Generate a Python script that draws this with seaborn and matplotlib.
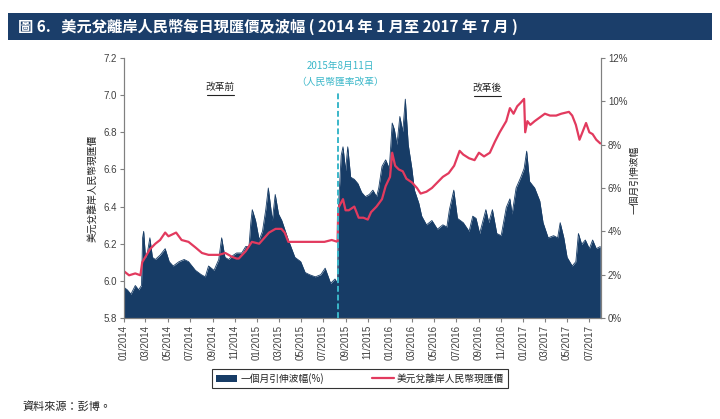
import matplotlib
matplotlib.use("Agg")
import matplotlib.pyplot as plt
import matplotlib.dates as mdates
from matplotlib.patches import Rectangle, Patch
from matplotlib.lines import Line2D
import seaborn as sns
import pandas as pd

# ---------------- data ----------------
vol_dates = [
    "2014-01-02", "2014-01-10", "2014-01-20", "2014-02-01", "2014-02-10", "2014-02-18",
    "2014-02-21", "2014-02-24", "2014-03-01", "2014-03-06", "2014-03-13", "2014-03-20",
    "2014-03-28", "2014-04-10", "2014-04-24", "2014-05-05", "2014-05-16", "2014-06-01",
    "2014-06-15", "2014-06-27", "2014-07-16", "2014-08-01", "2014-08-12", "2014-08-21",
    "2014-09-05", "2014-09-18", "2014-09-26", "2014-10-05", "2014-10-15", "2014-10-28",
    "2014-11-06", "2014-11-20", "2014-12-01", "2014-12-10", "2014-12-15", "2014-12-19",
    "2014-12-28", "2015-01-07", "2015-01-16", "2015-01-25", "2015-02-01", "2015-02-12",
    "2015-02-20", "2015-03-01", "2015-03-10", "2015-03-19", "2015-03-28", "2015-04-15",
    "2015-05-01", "2015-05-13", "2015-05-25", "2015-06-10", "2015-06-25", "2015-07-07",
    "2015-07-22", "2015-08-03", "2015-08-10",
    "2015-08-12", "2015-08-20", "2015-08-25", "2015-09-01", "2015-09-07", "2015-09-15",
    "2015-09-25", "2015-10-05", "2015-10-15", "2015-10-25", "2015-11-05", "2015-11-15",
    "2015-11-25", "2015-12-01", "2015-12-10", "2015-12-20", "2015-12-30", "2016-01-07",
    "2016-01-13", "2016-01-20", "2016-01-28", "2016-02-05", "2016-02-12", "2016-02-20",
    "2016-03-01", "2016-03-08", "2016-03-20", "2016-03-28", "2016-04-10", "2016-04-25",
    "2016-05-10", "2016-05-25", "2016-06-05", "2016-06-12", "2016-06-24", "2016-07-04",
    "2016-07-20", "2016-08-05", "2016-08-15", "2016-08-24", "2016-09-03", "2016-09-20",
    "2016-09-28", "2016-10-08", "2016-10-20", "2016-11-01", "2016-11-15", "2016-11-25",
    "2016-12-01", "2016-12-12", "2016-12-25", "2017-01-03", "2017-01-10", "2017-01-18",
    "2017-02-01", "2017-02-15", "2017-02-24", "2017-03-10", "2017-03-25", "2017-04-05",
    "2017-04-12", "2017-04-22", "2017-05-01", "2017-05-15", "2017-05-25", "2017-06-01",
    "2017-06-10", "2017-06-20", "2017-07-01", "2017-07-10", "2017-07-20", "2017-07-31",
]
vol_values = [
    1.4, 1.3, 1.1, 1.5, 1.3, 1.5,
    3.7, 4.0, 2.8, 3.0, 3.7, 2.8,
    2.7, 2.9, 3.2, 2.6, 2.4, 2.6,
    2.7, 2.6, 2.2, 2.0, 1.9, 2.4,
    2.2, 2.7, 3.7, 2.8, 2.7, 2.9,
    3.0, 3.0, 3.3, 3.3, 4.4, 5.0,
    4.5, 3.6, 4.0, 5.0, 6.0, 4.5,
    5.7, 4.8, 4.5, 4.05, 3.6, 2.8,
    2.6, 2.1, 2.0, 1.9, 2.0, 2.3,
    1.6, 1.8, 1.6,
    5.0, 7.5, 7.9, 6.8, 7.9, 6.5,
    6.4, 6.2, 5.8, 5.6, 5.7, 5.9,
    5.6, 6.0, 7.0, 7.3, 6.9, 9.0,
    8.7, 8.0, 9.3, 8.6, 10.1, 8.0,
    6.9, 5.9, 5.3, 4.7, 4.3, 4.5,
    4.1, 4.3, 4.2, 5.0, 5.9, 4.6,
    4.4, 4.0, 4.7, 4.6, 3.9, 5.0,
    4.4, 5.0, 3.9, 3.8, 5.1, 5.5,
    4.8, 6.0, 6.5, 6.9, 7.7, 6.3,
    6.0, 5.4, 4.4, 3.7, 3.8, 3.7,
    4.4, 3.7, 2.8, 2.4, 2.6, 3.9,
    3.4, 3.6, 3.2, 3.6, 3.2, 3.3,
]

fx_dates = [
    "2014-01-02", "2014-01-15", "2014-02-01", "2014-02-15", "2014-02-20", "2014-03-01",
    "2014-03-13", "2014-03-28", "2014-04-10", "2014-04-24", "2014-05-03", "2014-05-24",
    "2014-06-08", "2014-06-27", "2014-07-16", "2014-08-03", "2014-08-21", "2014-09-05",
    "2014-09-18", "2014-10-06", "2014-10-24", "2014-11-06", "2014-11-12", "2014-12-01",
    "2014-12-18", "2015-01-07", "2015-01-16", "2015-02-03", "2015-02-21", "2015-03-09",
    "2015-03-18", "2015-03-28", "2015-04-20", "2015-05-15", "2015-06-10", "2015-07-05",
    "2015-07-25", "2015-08-10",
    "2015-08-12", "2015-08-14", "2015-08-25", "2015-09-01", "2015-09-10", "2015-09-25",
    "2015-10-07", "2015-10-20", "2015-11-01", "2015-11-10", "2015-11-25", "2015-12-10",
    "2015-12-20", "2016-01-01", "2016-01-07", "2016-01-15", "2016-01-25", "2016-02-05",
    "2016-02-15", "2016-03-01", "2016-03-15", "2016-03-25", "2016-04-10", "2016-04-25",
    "2016-05-10", "2016-05-25", "2016-06-10", "2016-06-25", "2016-07-10", "2016-07-20",
    "2016-08-05", "2016-08-20", "2016-09-01", "2016-09-15", "2016-10-01", "2016-10-15",
    "2016-10-28", "2016-11-15", "2016-11-25", "2016-12-05", "2016-12-15", "2016-12-25",
    "2017-01-03", "2017-01-06", "2017-01-12", "2017-01-20", "2017-02-01", "2017-02-15",
    "2017-03-01", "2017-03-15", "2017-04-01", "2017-04-15", "2017-05-06", "2017-05-15",
    "2017-05-25", "2017-06-04", "2017-06-12", "2017-06-22", "2017-07-01", "2017-07-10",
    "2017-07-20", "2017-07-31",
]
fx_values = [
    6.05, 6.03, 6.04, 6.03, 6.10, 6.13,
    6.17, 6.20, 6.22, 6.26, 6.24, 6.26,
    6.22, 6.21, 6.18, 6.15, 6.14, 6.14,
    6.14, 6.15, 6.13, 6.12, 6.12, 6.16,
    6.21, 6.20, 6.22, 6.26, 6.28, 6.28,
    6.26, 6.21, 6.21, 6.21, 6.21, 6.21,
    6.22, 6.21,
    6.39, 6.40, 6.44, 6.38, 6.38, 6.40,
    6.34, 6.34, 6.33, 6.37, 6.40, 6.44,
    6.51, 6.56, 6.69, 6.62, 6.60, 6.59,
    6.55, 6.53, 6.50, 6.47, 6.48, 6.50,
    6.53, 6.56, 6.58, 6.62, 6.70, 6.68,
    6.66, 6.65, 6.69, 6.67, 6.69, 6.75,
    6.80, 6.86, 6.93, 6.90, 6.94, 6.96,
    6.98, 6.80, 6.86, 6.84, 6.86, 6.88,
    6.90, 6.89, 6.89, 6.90, 6.91, 6.89,
    6.84, 6.76, 6.80, 6.85, 6.80, 6.79,
    6.76, 6.74,
]

tick_dates = pd.date_range("2014-01-01", "2017-07-01", freq="2MS")
reform_date = "2015-08-11"

vol_df = pd.DataFrame({"date": pd.to_datetime(vol_dates), "vol": vol_values})
fx_df = pd.DataFrame({"date": pd.to_datetime(fx_dates), "fx": fx_values})

# ---------------- style ----------------
sns.set_theme(style="white")
plt.rcParams["font.family"] = ["Noto Sans CJK TC", "Liberation Sans", "DejaVu Sans"]

NAVY = "#173c66"
RED = "#e23a5e"
CYAN = "#3ab7c9"
GREY = "#808080"
TXT = "#404040"

W, H = 720, 419
fig = plt.figure(figsize=(7.2, 4.19), dpi=100)
fig.patch.set_facecolor("white")

def fx_(px):
    return px / W

def fy_(py):
    return 1 - py / H

ax = fig.add_axes([fx_(124), fy_(318), fx_(601) - fx_(124), fy_(58) - fy_(318)])
ax2 = ax.twinx()

# area on right axis
ax2.fill_between(vol_df["date"], 0, vol_df["vol"], color=NAVY, lw=0)
sns.lineplot(data=vol_df, x="date", y="vol", ax=ax2, color=NAVY, lw=0.6)
ax2.set_ylim(0, 12)
ax2.set_yticks(range(0, 13, 2))
ax2.set_yticklabels([f"{v}%" for v in range(0, 13, 2)])

# line on left axis, drawn on top
sns.lineplot(data=fx_df, x="date", y="fx", ax=ax, color=RED, lw=1.6)
ax.set_ylim(5.8, 7.2)
ax.set_yticks([5.8, 6.0, 6.2, 6.4, 6.6, 6.8, 7.0, 7.2])
ax.set_yticklabels([f"{v:.1f}" for v in [5.8, 6.0, 6.2, 6.4, 6.6, 6.8, 7.0, 7.2]])
ax.set_zorder(ax2.get_zorder() + 1)
ax.patch.set_visible(False)

ax.set_xlim(pd.Timestamp("2014-01-01"), pd.Timestamp("2017-08-02"))
ax.set_xticks(tick_dates)
ax.xaxis.set_major_formatter(mdates.DateFormatter("%m/%Y"))

for a in (ax, ax2):
    for s in a.spines.values():
        s.set_color(GREY)
        s.set_linewidth(0.8)
    a.spines["top"].set_visible(False)
    a.set_xlabel("")
    a.set_ylabel("")
    a.tick_params(axis="both", direction="out", length=3, width=0.8, color=GREY,
                  labelsize=7, labelcolor=TXT, pad=2)
    for lbl in a.get_yticklabels():
        lbl.set_fontfamily(["Liberation Sans", "DejaVu Sans"])
ax.tick_params(axis="x", rotation=90)
for lbl in ax.get_xticklabels():
    lbl.set_fontfamily(["Liberation Sans", "DejaVu Sans"])
ax.tick_params(left=True, bottom=True)
ax2.tick_params(right=True)

# reform line
ax.axvline(pd.Timestamp(reform_date), ymin=0, ymax=(318 - 92) / 260, color=CYAN,
           ls=(0, (3, 1.5)), lw=1.4, zorder=5)

# axis labels
fig.text(fx_(92), fy_(188), "美元兌離岸人民幣現匯價", rotation=90, ha="center", va="center",
         fontsize=7, color="#222222")
fig.text(fx_(634), fy_(180), "一個月引伸波幅", rotation=90, ha="center", va="center",
         fontsize=7, color="#222222")

# annotations
fig.text(fx_(220), fy_(87), "改革前", ha="center", va="center", fontsize=7, color="#222222")
fig.add_artist(Line2D([fx_(207), fx_(234)], [fy_(95), fy_(95)], color="#222222", lw=0.8))
fig.text(fx_(487), fy_(88), "改革後", ha="center", va="center", fontsize=7, color="#222222")
fig.add_artist(Line2D([fx_(474), fx_(501)], [fy_(96), fy_(96)], color="#222222", lw=0.8))
fig.text(fx_(340), fy_(66), "2015年8月11日", ha="center", va="center", fontsize=7, color=CYAN)
fig.text(fx_(340), fy_(82), "（人民幣匯率改革）", ha="center", va="center", fontsize=7, color=CYAN)

# title bar
fig.add_artist(Rectangle((fx_(8), fy_(40)), fx_(712) - fx_(8), fy_(13) - fy_(40),
                         transform=fig.transFigure, facecolor="#1b3e6a", edgecolor="none"))
fig.text(fx_(18), fy_(27), "圖 6.   美元兌離岸人民幣每日現匯價及波幅 ( 2014 年 1 月至 2017 年 7 月 )",
         ha="left", va="center", fontsize=11, fontweight="bold", color="white")

# legend
handles = [Patch(facecolor=NAVY, edgecolor="none"), Line2D([], [], color=RED, lw=1.6)]
labels = ["一個月引伸波幅(%)", "美元兌離岸人民幣現匯價"]
leg = fig.legend(handles, labels, loc="center", bbox_to_anchor=(fx_(360), fy_(378.5)),
                 ncol=2, fontsize=7, frameon=True, fancybox=False, edgecolor="black",
                 handlelength=2.2, handleheight=0.7, columnspacing=5, borderpad=0.4,
                 handletextpad=0.3)
leg.get_frame().set_linewidth(0.8)
for t in leg.get_texts():
    t.set_color("#222222")

# source
fig.text(fx_(22), fy_(406), "資料來源：彭博。", ha="left", va="center", fontsize=8, color="#222222")

fig.savefig("out.png", dpi=100)
